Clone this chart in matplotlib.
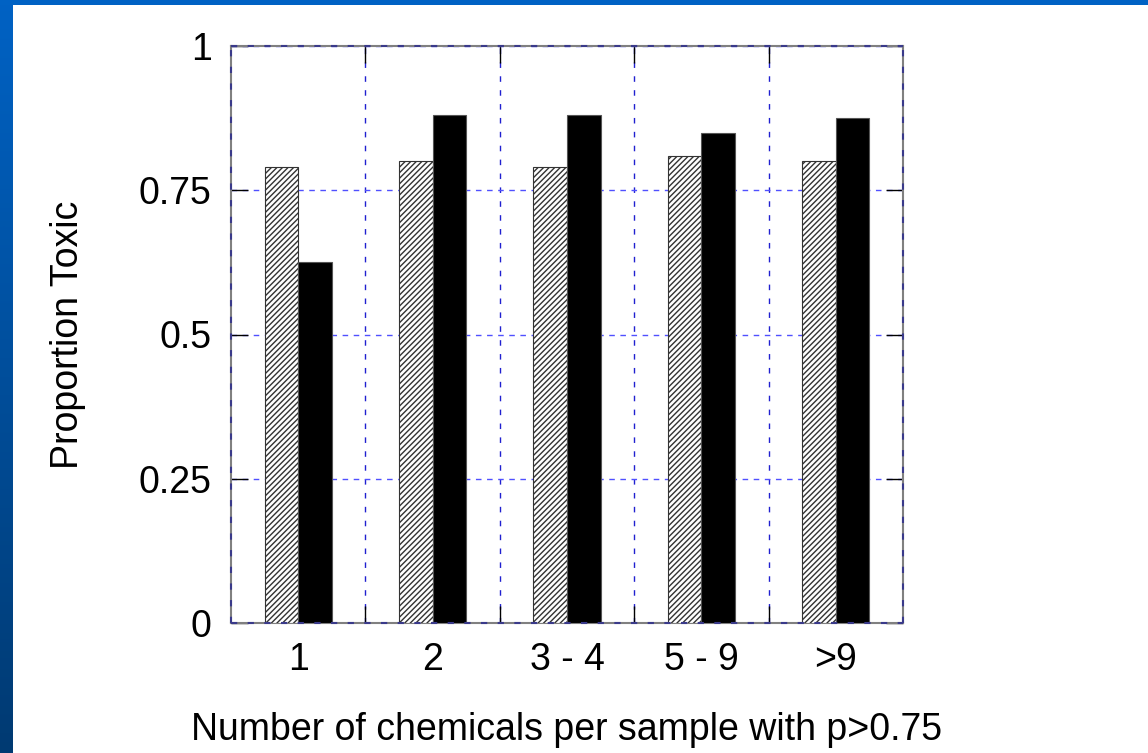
import numpy as np
import matplotlib
matplotlib.use("Agg")
import matplotlib.pyplot as plt
from matplotlib.colors import LinearSegmentedColormap

categories = ["1", "2", "3 - 4", "5 - 9", ">9"]
hatched_vals = [0.79, 0.80, 0.79, 0.81, 0.80]
solid_vals = [0.625, 0.88, 0.88, 0.85, 0.875]
y_ticks = [0, 0.25, 0.5, 0.75, 1]
y_tick_labels = ["0", "0.25", "0.5", "0.75", "1"]

plt.rcParams['font.family'] = ['Liberation Sans', 'DejaVu Sans']
plt.rcParams['hatch.linewidth'] = 1.0

fig = plt.figure(figsize=(11.48, 7.53), dpi=100)
fig.patch.set_facecolor("white")

# slide border: blue strip on the left (gradient) and top
side = fig.add_axes([0, 0, 12 / 1148, 1])
grad = np.linspace(0, 1, 256).reshape(-1, 1)
cmap = LinearSegmentedColormap.from_list("slide", ["#003a72", "#0062c4"])
side.imshow(grad, aspect="auto", cmap=cmap, origin="lower", extent=[0, 1, 0, 1])
side.set_axis_off()
top = fig.add_axes([0, 1 - 5 / 753, 1, 5 / 753])
top.set_facecolor("#0062c4")
top.set_xticks([])
top.set_yticks([])
for s in top.spines.values():
    s.set_visible(False)

ax = fig.add_axes([231 / 1148, 130 / 753, 672 / 1148, 577 / 753])
x = np.arange(len(categories))
w = 0.25
ax.bar(x - w / 2, hatched_vals, w, color="white", edgecolor="#333333",
       hatch="//////", linewidth=0.8, zorder=3)
ax.bar(x + w / 2, solid_vals, w, color="black", edgecolor="#555555",
       linewidth=0.8, zorder=3)

ax.set_xlim(-0.5, len(categories) - 0.5)
ax.set_ylim(0, 1)
ax.set_xticks(x)
ax.set_xticklabels(categories, fontsize=27)
ax.set_xticks(x[:-1] + 0.5, minor=True)
ax.set_yticks(y_ticks)
ax.set_yticklabels(y_tick_labels, fontsize=27)

ax.tick_params(axis="x", which="major", length=0, pad=14)
ax.tick_params(axis="x", which="minor", direction="in", length=12,
               top=True, bottom=True, color="black", width=1)
ax.tick_params(axis="y", which="major", direction="in", length=12,
               left=True, right=True, color="black", width=1, pad=14)

ax.grid(True, axis="y", which="major", color="#5050ff", linestyle=(0, (4, 4)),
        linewidth=1, zorder=1)
ax.grid(True, axis="x", which="minor", color="#2020d0", linestyle=(0, (4, 6)),
        linewidth=1, zorder=1)

for s in ax.spines.values():
    s.set_color("#808080")
    s.set_linewidth(1.5)
for xs, ys in [([0, 1], [0, 0]), ([0, 1], [1, 1]), ([0, 0], [0, 1]), ([1, 1], [0, 1])]:
    ax.plot(xs, ys, transform=ax.transAxes, color="#3a3a8a", linewidth=1.5,
            linestyle=(0, (3, 5)), clip_on=False, zorder=4)

ax.set_ylabel("Proportion Toxic", fontsize=27, labelpad=38)
ax.set_xlabel("Number of chemicals per sample with p>0.75", fontsize=27, labelpad=24)

fig.savefig("out.png", dpi=100)
